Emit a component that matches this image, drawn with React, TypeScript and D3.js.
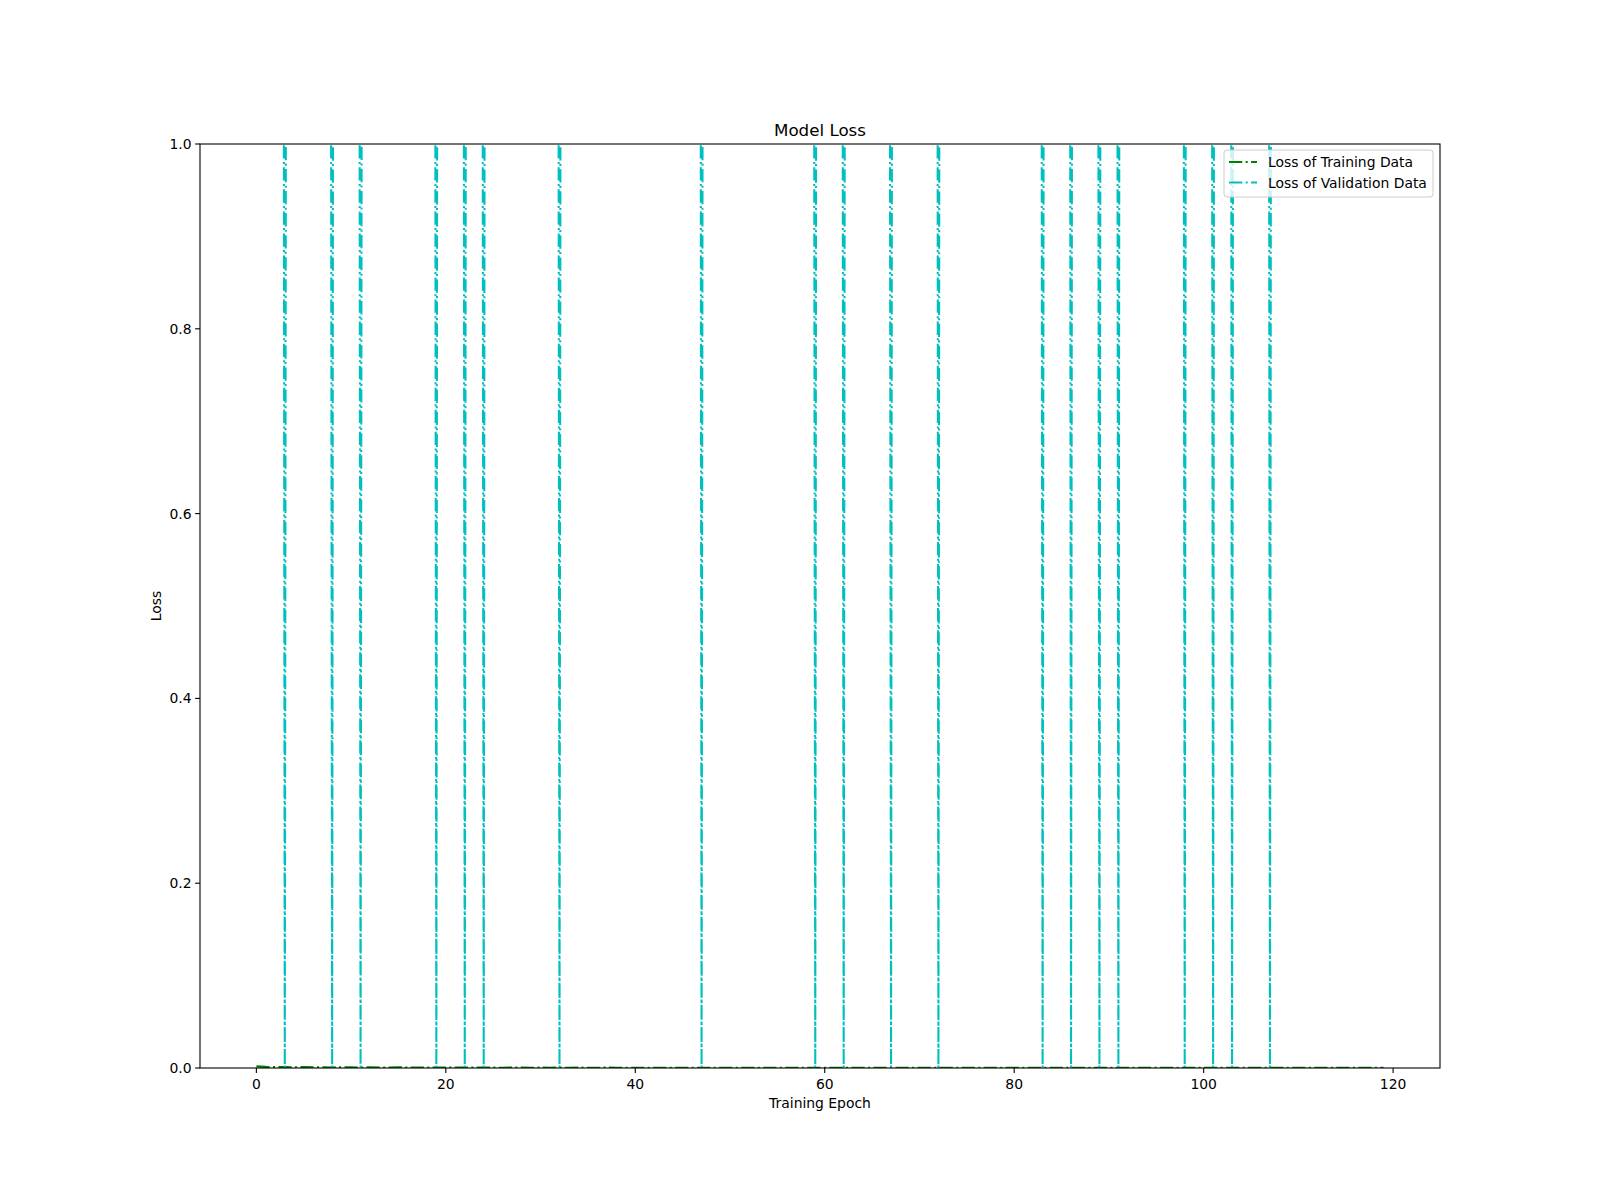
import React, { useEffect } from 'react';
import * as d3 from 'd3';

// Loss per epoch (0..119)
const trainingLoss = [
  0.0018, 0.0012, 0.0009, 0.0011, 0.0008, 0.0010, 0.0007, 0.0009, 0.0006, 0.0008, 0.0007, 0.0006,
  0.0007, 0.0005, 0.0006, 0.0008, 0.0005, 0.0006, 0.0004, 0.0005, 0.0006, 0.0004, 0.0005, 0.0004,
  0.0005, 0.0004, 0.0003, 0.0005, 0.0004, 0.0003, 0.0004, 0.0003, 0.0004, 0.0003, 0.0004, 0.0003,
  0.0003, 0.0004, 0.0003, 0.0002, 0.0003, 0.0003, 0.0002, 0.0003, 0.0002, 0.0003, 0.0002, 0.0003,
  0.0002, 0.0003, 0.0002, 0.0002, 0.0003, 0.0002, 0.0002, 0.0003, 0.0002, 0.0002, 0.0001, 0.0002,
  0.0002, 0.0001, 0.0002, 0.0002, 0.0001, 0.0002, 0.0001, 0.0002, 0.0001, 0.0001, 0.0002, 0.0001,
  0.0001, 0.0002, 0.0001, 0.0001, 0.0001, 0.0002, 0.0001, 0.0001, 0.0001, 0.0001, 0.0002, 0.0001,
  0.0001, 0.0001, 0.0001, 0.0001, 0.0002, 0.0001, 0.0001, 0.0001, 0.0001, 0.0001, 0.0001, 0.0001,
  0.0001, 0.0001, 0.0001, 0.0001, 0.0001, 0.0001, 0.0001, 0.0001, 0.0001, 0.0001, 0.0001, 0.0001,
  0.0001, 0.0001, 0.0001, 0.0001, 0.0001, 0.0001, 0.0001, 0.0001, 0.0001, 0.0001, 0.0001, 0.0001,
];

// validation loss is far above the axis except at a few epochs where it drops to ~0
const validationLoss = [
  9.8, 11.2, 10.4, 0.0006, 8.9, 12.1, 10.7, 9.5, 0.0004, 11.8, 10.2, 0.0007,
  9.1, 12.6, 10.9, 8.7, 11.4, 10.1, 9.6, 0.0005, 12.3, 10.8, 0.0006, 9.9,
  0.0004, 11.5, 10.3, 9.2, 12.0, 10.6, 8.8, 11.1, 0.0005, 10.0, 9.4, 12.4,
  10.5, 9.7, 11.9, 8.6, 10.9, 12.2, 9.3, 11.0, 10.4, 9.0, 11.7, 0.0006,
  10.1, 9.8, 12.5, 10.7, 8.9, 11.3, 10.0, 9.6, 12.0, 10.8, 9.2, 0.0004,
  11.6, 10.3, 0.0005, 9.5, 12.1, 10.6, 9.1, 0.0006, 11.2, 10.2, 8.8, 12.3,
  0.0004, 10.9, 9.7, 11.8, 10.4, 9.0, 12.6, 10.1, 9.4, 11.5, 10.7, 0.0005,
  9.9, 12.2, 0.0006, 10.5, 9.3, 0.0004, 11.0, 0.0005, 10.8, 9.6, 12.4, 10.2,
  8.7, 11.3, 0.0006, 10.0, 9.8, 0.0004, 12.0, 0.0005, 10.6, 9.2, 11.7, 0.0006,
  10.3, 9.5, 12.1, 10.9, 8.9, 11.4, 10.1, 9.7, 12.5, 10.4, 9.1, 11.0,
];

const xTicks = [0, 20, 40, 60, 80, 100, 120];
const yTicks = [0, 0.2, 0.4, 0.6, 0.8, 1.0];

const seriesNames = ['Loss of Training Data', 'Loss of Validation Data'];
const seriesColors = ['#008000', '#00bfbf'];

const W = 1600;
const H = 1200;
const margin = { left: 200, right: 160, top: 144, bottom: 132 };
const FONT = 'DejaVu Sans, sans-serif';
// matplotlib '-.' at 1.5pt, 100 dpi
const LW = 2.08;
const DASH = '13.3,3.33,2.08,3.33';

// split a series into pieces that stay below yMax (like agg's path clipper,
// which restarts the dash pattern on every piece)
function clipPieces(values: number[], yMax: number): [number, number][][] {
  const pieces: [number, number][][] = [];
  let cur: [number, number][] | null = null;
  for (let i = 0; i < values.length - 1; i++) {
    const a = values[i];
    const b = values[i + 1];
    const inA = a <= yMax;
    const inB = b <= yMax;
    if (inA && inB) {
      if (!cur) { cur = [[i, a]]; pieces.push(cur); }
      cur.push([i + 1, b]);
    } else if (inA && !inB) {
      if (!cur) { cur = [[i, a]]; pieces.push(cur); }
      const t = (yMax - a) / (b - a);
      cur.push([i + t, yMax]);
      cur = null;
    } else if (!inA && inB) {
      const t = (yMax - a) / (b - a);
      cur = [[i + t, yMax], [i + 1, b]];
      pieces.push(cur);
    } else {
      cur = null;
    }
  }
  return pieces;
}

export default function App() {
  useEffect(() => {
    document.body.style.margin = '0';
  }, []);

  const x = d3.scaleLinear().domain([-5.95, 124.95]).range([margin.left, W - margin.right]);
  const y = d3.scaleLinear().domain([0, 1]).range([H - margin.bottom, margin.top]);

  const line = d3.line<[number, number]>()
    .x(d => x(d[0]))
    .y(d => y(d[1]));

  const series = [trainingLoss, validationLoss];
  const x0 = margin.left;
  const x1 = W - margin.right;
  const y0 = H - margin.bottom;
  const y1 = margin.top;
  const clipTop = y.invert(-9);

  // legend box
  const lx = 1224;
  const ly = 150;

  return (
    <svg width={W} height={H} style={{ display: 'block', background: '#fff' }} fontFamily={FONT}>
      <defs>
        <clipPath id="plot">
          <rect x={x0} y={y1} width={x1 - x0} height={y0 - y1} />
        </clipPath>
      </defs>
      <rect x={0} y={0} width={W} height={H} fill="#fff" />

      <g clipPath="url(#plot)">
        {series.map((s, k) => (
          <g key={k}>
            {clipPieces(s, clipTop).map((p, j) => (
              <path key={j} d={line(p) || ''} fill="none" stroke={seriesColors[k]}
                strokeWidth={LW} strokeDasharray={DASH} />
            ))}
          </g>
        ))}
      </g>

      {/* spines */}
      <rect x={x0} y={y1} width={x1 - x0} height={y0 - y1} fill="none" stroke="#000" strokeWidth={1.1} />

      {/* x axis */}
      {xTicks.map(t => (
        <g key={t}>
          <line x1={x(t)} x2={x(t)} y1={y0} y2={y0 + 4.9} stroke="#000" strokeWidth={1.1} />
          <text x={x(t)} y={y0 + 21} textAnchor="middle" fontSize={13.9}>{t}</text>
        </g>
      ))}
      <text x={(x0 + x1) / 2} y={1108} textAnchor="middle" fontSize={13.9}>Training Epoch</text>

      {/* y axis */}
      {yTicks.map(t => (
        <g key={t}>
          <line x1={x0 - 4.9} x2={x0} y1={y(t)} y2={y(t)} stroke="#000" strokeWidth={1.1} />
          <text x={x0 - 8.5} y={y(t) + 5} textAnchor="end" fontSize={13.9}>{t.toFixed(1)}</text>
        </g>
      ))}
      <text transform={`translate(161,${(y0 + y1) / 2}) rotate(-90)`} textAnchor="middle" fontSize={13.9}>Loss</text>

      <text x={(x0 + x1) / 2} y={136} textAnchor="middle" fontSize={16.7}>Model Loss</text>

      {/* legend */}
      <rect x={lx} y={ly} width={209} height={47} rx={3} fill="#fff" fillOpacity={0.8}
        stroke="#cccccc" strokeWidth={1} />
      {seriesNames.map((n, k) => (
        <g key={n}>
          <line x1={lx + 5} x2={lx + 33} y1={ly + 12 + k * 20.5} y2={ly + 12 + k * 20.5}
            stroke={seriesColors[k]} strokeWidth={LW} strokeDasharray={DASH} />
          <text x={lx + 44} y={ly + 17 + k * 20.5} fontSize={13.9}>{n}</text>
        </g>
      ))}
    </svg>
  );
}
